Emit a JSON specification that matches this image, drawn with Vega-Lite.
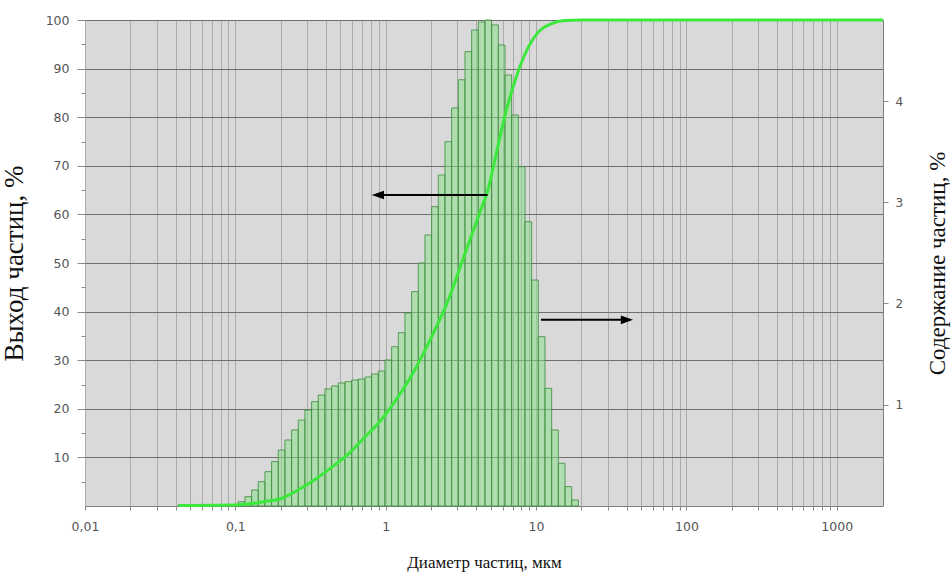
{
  "$schema": "https://vega.github.io/schema/vega-lite/v6.json",
  "width": 798,
  "height": 486,
  "autosize": {"type": "none"},
  "padding": {"left": 85, "top": 20, "right": 69, "bottom": 67},
  "background": "white",
  "config": {
    "view": {"fill": "#d9d9d9", "stroke": "#7f7f7f", "strokeWidth": 1},
    "axis": {
      "domain": false,
      "labelFont": "DejaVu Sans",
      "labelFontSize": 12.5,
      "labelColor": "#555555",
      "tickColor": "#8a8a8a",
      "titleFont": "Liberation Serif",
      "titleFontSize": 17,
      "titleFontWeight": "normal",
      "titleColor": "#111111"
    }
  },
  "datasets": {
    "bars": [
      {"lo": 0.04171, "hi": 0.04617, "v": 0.012},
      {"lo": 0.04617, "hi": 0.05115, "v": 0.012},
      {"lo": 0.05115, "hi": 0.05666, "v": 0.012},
      {"lo": 0.05666, "hi": 0.06276, "v": 0.012},
      {"lo": 0.06276, "hi": 0.0695, "v": 0.012},
      {"lo": 0.0695, "hi": 0.07697, "v": 0.012},
      {"lo": 0.07697, "hi": 0.08523, "v": 0.012},
      {"lo": 0.08523, "hi": 0.0944, "v": 0.012},
      {"lo": 0.0944, "hi": 0.10454, "v": 0.015},
      {"lo": 0.10454, "hi": 0.11578, "v": 0.042},
      {"lo": 0.11578, "hi": 0.12823, "v": 0.092},
      {"lo": 0.12823, "hi": 0.14203, "v": 0.158},
      {"lo": 0.14203, "hi": 0.15732, "v": 0.24},
      {"lo": 0.15732, "hi": 0.1742, "v": 0.339},
      {"lo": 0.1742, "hi": 0.19297, "v": 0.438},
      {"lo": 0.19297, "hi": 0.2137, "v": 0.553},
      {"lo": 0.2137, "hi": 0.23664, "v": 0.652},
      {"lo": 0.23664, "hi": 0.26213, "v": 0.751},
      {"lo": 0.26213, "hi": 0.29027, "v": 0.849},
      {"lo": 0.29027, "hi": 0.32149, "v": 0.948},
      {"lo": 0.32149, "hi": 0.35605, "v": 1.03},
      {"lo": 0.35605, "hi": 0.3943, "v": 1.096},
      {"lo": 0.3943, "hi": 0.43672, "v": 1.156},
      {"lo": 0.43672, "hi": 0.48364, "v": 1.185},
      {"lo": 0.48364, "hi": 0.53569, "v": 1.215},
      {"lo": 0.53569, "hi": 0.59325, "v": 1.228},
      {"lo": 0.59325, "hi": 0.65705, "v": 1.244},
      {"lo": 0.65705, "hi": 0.72774, "v": 1.254},
      {"lo": 0.72774, "hi": 0.80599, "v": 1.274},
      {"lo": 0.80599, "hi": 0.89268, "v": 1.304},
      {"lo": 0.89268, "hi": 0.98855, "v": 1.333},
      {"lo": 0.98855, "hi": 1.0948, "v": 1.442},
      {"lo": 1.0948, "hi": 1.2126, "v": 1.573},
      {"lo": 1.2126, "hi": 1.3428, "v": 1.712},
      {"lo": 1.3428, "hi": 1.4873, "v": 1.906},
      {"lo": 1.4873, "hi": 1.6473, "v": 2.117},
      {"lo": 1.6473, "hi": 1.8245, "v": 2.4},
      {"lo": 1.8245, "hi": 2.0206, "v": 2.677},
      {"lo": 2.0206, "hi": 2.2378, "v": 2.956},
      {"lo": 2.2378, "hi": 2.4786, "v": 3.269},
      {"lo": 2.4786, "hi": 2.745, "v": 3.598},
      {"lo": 2.745, "hi": 3.0403, "v": 3.931},
      {"lo": 3.0403, "hi": 3.3673, "v": 4.21},
      {"lo": 3.3673, "hi": 3.7292, "v": 4.487},
      {"lo": 3.7292, "hi": 4.1303, "v": 4.701},
      {"lo": 4.1303, "hi": 4.5745, "v": 4.78},
      {"lo": 4.5745, "hi": 5.0663, "v": 4.8},
      {"lo": 5.0663, "hi": 5.6111, "v": 4.751},
      {"lo": 5.6111, "hi": 6.2146, "v": 4.553},
      {"lo": 6.2146, "hi": 6.8829, "v": 4.257},
      {"lo": 6.8829, "hi": 7.6208, "v": 3.862},
      {"lo": 7.6208, "hi": 8.4412, "v": 3.351},
      {"lo": 8.4412, "hi": 9.3478, "v": 2.808},
      {"lo": 9.3478, "hi": 10.353, "v": 2.232},
      {"lo": 10.353, "hi": 11.467, "v": 1.672},
      {"lo": 11.467, "hi": 12.7, "v": 1.162},
      {"lo": 12.7, "hi": 14.066, "v": 0.751},
      {"lo": 14.066, "hi": 15.578, "v": 0.422},
      {"lo": 15.578, "hi": 17.254, "v": 0.191},
      {"lo": 17.254, "hi": 19.109, "v": 0.059}
    ],
    "cum": [
      {"d": 0.042, "c": 0.1},
      {"d": 0.1, "c": 0.2},
      {"d": 0.12, "c": 0.4},
      {"d": 0.155, "c": 0.9},
      {"d": 0.2, "c": 1.5},
      {"d": 0.258, "c": 3.2},
      {"d": 0.333, "c": 5.3},
      {"d": 0.43, "c": 7.8},
      {"d": 0.555, "c": 10.5},
      {"d": 0.717, "c": 14.0},
      {"d": 0.926, "c": 17.6},
      {"d": 1.197, "c": 22.3},
      {"d": 1.545, "c": 27.8},
      {"d": 1.995, "c": 34.5},
      {"d": 2.576, "c": 42.0},
      {"d": 3.327, "c": 51.5},
      {"d": 4.296, "c": 61.0},
      {"d": 4.764, "c": 64.8},
      {"d": 5.41, "c": 72.2},
      {"d": 6.15, "c": 79.8},
      {"d": 7.16, "c": 87.0},
      {"d": 8.81, "c": 94.2},
      {"d": 10.26, "c": 97.4},
      {"d": 12.59, "c": 99.2},
      {"d": 15.45, "c": 99.9},
      {"d": 19.95, "c": 100},
      {"d": 2030, "c": 100}
    ],
    "arrows": [
      {"from": 4.76, "to": 0.84, "head": 0.887, "y": 64.0, "dir": "left"},
      {"from": 10.8, "to": 41.0, "head": 40.2, "y": 38.3, "dir": "right"}
    ]
  },
  "layer": [
    {
      "data": {"name": "bars"},
      "mark": {"type": "rect", "fill": "#86e286", "fillOpacity": 0.5, "stroke": "#3f8f3f", "strokeWidth": 1, "strokeOpacity": 0.85},
      "encoding": {
        "x": {
          "field": "lo", "type": "quantitative",
          "scale": {"type": "log", "domain": [0.01, 2030], "nice": false},
          "axis": {
            "title": "Диаметр частиц, мкм",
            "values": [0.01,0.02,0.03,0.04,0.05,0.06,0.07,0.08,0.09,0.1,0.2,0.3,0.4,0.5,0.6,0.7,0.8,0.9,1,2,3,4,5,6,7,8,9,10,20,30,40,50,60,70,80,90,100,200,300,400,500,600,700,800,900,1000],
            "labelExpr": "datum.value==0.01?'0,01':datum.value==0.1?'0,1':datum.value==1?'1':datum.value==10?'10':datum.value==100?'100':datum.value==1000?'1000':''",
            "labelPadding": 10,
            "labelFlush": false,
            "labelOverlap": false,
            "tickSize": 4,
            "grid": true,
            "gridColor": "#ababab",
            "gridWidth": 1,
            "titlePadding": 22
          }
        },
        "x2": {"field": "hi"},
        "y": {
          "field": "v", "type": "quantitative",
          "scale": {"domain": [0, 4.8], "nice": false, "zero": true},
          "axis": {
            "orient": "right",
            "title": "Содержание частиц, %",
            "values": [1, 2, 3, 4],
            "grid": false,
            "tickSize": 5,
            "labelPadding": 7,
            "labelFontSize": 12,
            "titleAngle": -90,
            "titleFontSize": 23,
            "titlePadding": 47
          }
        },
        "y2": {"datum": 0}
      }
    },
    {
      "data": {"name": "cum"},
      "mark": {"type": "line", "color": "#3be83b", "strokeWidth": 3, "interpolate": "monotone"},
      "encoding": {
        "x": {"field": "d", "type": "quantitative"},
        "y": {
          "field": "c", "type": "quantitative",
          "scale": {"domain": [0, 100], "nice": false},
          "axis": {
            "orient": "left",
            "title": "Выход частиц, %",
            "values": [10,20,30,40,50,60,70,80,90,100],
            "tickSize": 8,
            "grid": true,
            "gridColor": "#6f6f6f",
            "gridWidth": 1.2,
            "labelPadding": 8,
            "labelOverlap": false,
            "titleFontSize": 27,
            "titlePadding": 17
          }
        }
      }
    },
    {
      "data": {"name": "cum"},
      "mark": {"type": "line", "opacity": 0},
      "encoding": {
        "x": {"field": "d", "type": "quantitative"},
        "y": {
          "field": "c", "type": "quantitative",
          "scale": {"domain": [0, 100], "nice": false},
          "axis": {
            "orient": "left",
            "title": null,
            "values": [5,15,25,35,45,55,65,75,85,95],
            "labels": false,
            "tickSize": 4,
            "grid": false
          }
        }
      }
    },
    {
      "data": {"name": "arrows"},
      "mark": {"type": "rule", "color": "#000000", "strokeWidth": 2},
      "encoding": {
        "x": {"field": "from", "type": "quantitative"},
        "x2": {"field": "to"},
        "y": {"field": "y", "type": "quantitative", "scale": {"domain": [0, 100], "nice": false}, "axis": null}
      }
    },
    {
      "data": {"name": "arrows"},
      "transform": [{"filter": "datum.dir == 'left'"}],
      "mark": {"type": "point", "shape": "M-1,0 L1,-0.7 L1,0.7 Z", "size": 150, "filled": true, "color": "#000000", "opacity": 1},
      "encoding": {
        "x": {"field": "head", "type": "quantitative"},
        "y": {"field": "y", "type": "quantitative", "scale": {"domain": [0, 100], "nice": false}, "axis": null}
      }
    },
    {
      "data": {"name": "arrows"},
      "transform": [{"filter": "datum.dir == 'right'"}],
      "mark": {"type": "point", "shape": "M1,0 L-1,-0.7 L-1,0.7 Z", "size": 150, "filled": true, "color": "#000000", "opacity": 1},
      "encoding": {
        "x": {"field": "head", "type": "quantitative"},
        "y": {"field": "y", "type": "quantitative", "scale": {"domain": [0, 100], "nice": false}, "axis": null}
      }
    }
  ],
  "resolve": {"scale": {"y": "independent"}, "axis": {"y": "independent"}}
}
